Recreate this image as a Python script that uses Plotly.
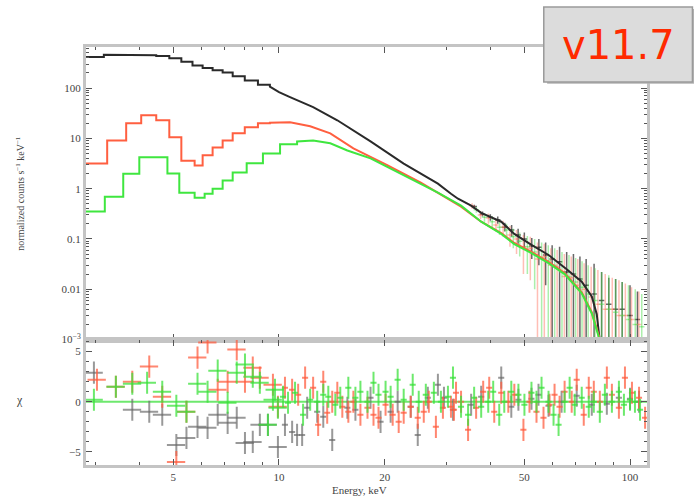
import plotly.graph_objects as go

# ---------------- upper panel: folded model curves ----------------
# low-energy part is a step histogram (bin edges in keV, value per bin)
blk_edges = [2.80, 3.17, 3.62, 4.05, 4.47, 4.87, 5.27, 5.67, 6.06, 6.47, 6.91, 7.38, 7.99, 8.71, 9.42]
blk_vals = [417, 460, 462, 452, 435, 392, 335, 280, 250, 226, 203, 172, 142, 116]
blk_fine_e = [9.42, 10.0, 10.75, 12.51, 14.66, 18.23, 22.66, 28.36, 30.90, 32.36, 35.27, 37.67,
              42.97, 46.82, 52.39, 58.60, 66.0, 72.86, 77.82, 80.4, 82.04]
blk_fine_v = [107, 83, 66, 41.7, 22.9, 8.7, 3.16, 1.26, 0.79, 0.63, 0.46, 0.33,
              0.22, 0.126, 0.076, 0.048, 0.025, 0.0141, 0.0072, 0.0032, 0.00091]

red_edges = [2.80, 3.24, 3.67, 4.05, 4.47, 4.87, 5.27, 5.75, 6.06, 6.47, 6.91, 7.38, 7.99, 8.71, 9.42]
red_vals = [3.16, 9.1, 20, 28.8, 22.9, 10.5, 3.6, 2.9, 4.6, 6.6, 9.1, 12.6, 16.6, 20]
red_fine_e = [9.42, 10.75, 12.27, 14.0, 16.29, 20.4, 25.35, 28.93, 33.01, 37.67, 42.97, 46.82,
              52.39, 58.60, 65.12, 72.86, 77.82, 81.51, 83.1]
red_fine_v = [20.4, 21, 17.4, 12.6, 6.3, 2.9, 1.32, 0.76, 0.44, 0.22, 0.13, 0.083,
              0.055, 0.035, 0.021, 0.0087, 0.0035, 0.0012, 0.0007]

grn_edges = [2.80, 3.19, 3.60, 4.00, 4.81, 5.20, 5.75, 6.14, 6.47, 6.91, 7.38, 8.09, 9.00, 10.07, 11.26]
grn_vals = [0.35, 0.69, 1.98, 4.2, 2.0, 0.83, 0.66, 0.79, 1.0, 1.45, 2.1, 3.2, 5.0, 7.6]
grn_fine_e = [11.26, 12.51, 14.0, 15.66, 18.23, 22.66, 28.36, 33.01, 37.67, 42.97, 46.82,
              52.39, 58.60, 65.12, 72.86, 77.82, 81.51, 83.1]
grn_fine_v = [8.7, 9.1, 8.0, 5.75, 4.0, 1.82, 0.83, 0.46, 0.22, 0.126, 0.079,
              0.052, 0.033, 0.020, 0.0083, 0.0033, 0.00115, 0.0007]

# ---------------- upper panel: high-energy data points ----------------
blk_dat_e = [36, 38, 40, 42, 44, 46, 48, 50, 52.5, 55, 57.5, 60, 63, 66, 69, 72, 75, 79, 83, 87, 91, 95, 100, 105]
blk_dat_v = [0.44, 0.31, 0.27, 0.24, 0.17, 0.15, 0.12, 0.10, 0.072, 0.068, 0.048, 0.04, 0.035, 0.022,
             0.02, 0.016, 0.012, 0.008, 0.006, 0.005, 0.004, 0.004, 0.003, 0.0025]
blk_dat_lo = [0.40, 0.28, 0.23, 0.20, 0.14, 0.11, 0.08, 0.065, 0.04, 0.03, 0.012, 0, 0, 0,
              0, 0, 0, 0, 0, 0, 0, 0, 0, 0]
blk_dat_hi = [0.48, 0.35, 0.31, 0.28, 0.21, 0.19, 0.16, 0.135, 0.105, 0.10, 0.085, 0.075, 0.07, 0.055,
              0.05, 0.045, 0.04, 0.032, 0.022, 0.017, 0.016, 0.014, 0.012, 0.009]

red_dat_e = [35.5, 37.5, 39.5, 41.5, 43.5, 45.5, 47.5, 49.7, 52, 54.5, 57, 59.5, 62, 65, 68, 71, 74,
             77.5, 81, 85, 89, 93, 97, 101, 106]
red_dat_v = [0.45, 0.30, 0.26, 0.19, 0.17, 0.12, 0.10, 0.07, 0.065, 0.04, 0.045, 0.03, 0.028, 0.018,
             0.017, 0.012, 0.01, 0.007, 0.005, 0.004, 0.004, 0.003, 0.003, 0.0025, 0.002]
red_dat_lo = [0.40, 0.25, 0.20, 0.14, 0.11, 0.07, 0.05, 0.02, 0.015, 0, 0, 0, 0, 0,
              0, 0, 0, 0, 0, 0, 0, 0, 0, 0, 0]
red_dat_hi = [0.51, 0.36, 0.32, 0.25, 0.23, 0.18, 0.15, 0.12, 0.11, 0.085, 0.08, 0.065, 0.06, 0.05,
              0.045, 0.04, 0.033, 0.028, 0.024, 0.02, 0.017, 0.015, 0.013, 0.011, 0.009]

grn_dat_e = [36.5, 38.5, 40.5, 42.5, 44.5, 46.5, 48.5, 51, 53.5, 56, 58.5, 61, 64, 67, 70, 73, 76,
             79.5, 83, 87, 91, 95, 99, 103.5, 108]
grn_dat_v = [0.38, 0.27, 0.22, 0.17, 0.15, 0.11, 0.09, 0.07, 0.055, 0.042, 0.037, 0.03, 0.022, 0.018,
             0.014, 0.011, 0.008, 0.006, 0.005, 0.004, 0.0035, 0.003, 0.0025, 0.002, 0.0018]
grn_dat_lo = [0.33, 0.22, 0.17, 0.12, 0.10, 0.065, 0.045, 0.02, 0.01, 0, 0, 0, 0, 0,
              0, 0, 0, 0, 0, 0, 0, 0, 0, 0, 0]
grn_dat_hi = [0.43, 0.32, 0.28, 0.22, 0.20, 0.16, 0.135, 0.115, 0.10, 0.085, 0.075, 0.065, 0.055, 0.048,
              0.042, 0.036, 0.03, 0.026, 0.022, 0.019, 0.016, 0.014, 0.012, 0.01, 0.008]

# ---------------- lower panel: residuals (chi) ----------------
blk_res_e = [2.97, 3.82, 4.27, 4.65, 5.10, 5.45, 5.86, 6.26, 6.69, 7.14, 7.58, 8.00, 8.42, 8.82, 9.30,
             9.93, 10.40, 10.90, 11.26, 11.64, 12.03, 12.85, 13.37, 14.18, 15.66, 16.51, 18.23, 19.47,
             20.80, 21.78, 23.73, 24.85, 26.55, 28.36, 29.51, 31.3, 35.27, 37.67, 42.97, 45.9, 48.09,
             52.4, 54.87, 58.6, 63.84, 70.5, 77.82, 85.9, 92.98, 100, 106.1]
blk_res_v = [2.9, -0.8, -1.0, -1.3, -4.3, -3.6, -2.5, -2.6, -1.3, -2.1, -1.6, -4.1, -4.0, -2.3, -2.3,
             -4.5, -2.3, -3.0, -3.3, -3.3, -0.6, -1.0, -1.5, -3.8, -0.6, -0.8, 0.4, -2.0,
             -1.0, 0.0, -0.5, -3.3, 0.4, 1.7, 0.4, -0.8, -0.3, 0.5, 2.4, -0.5, 0.2,
             0.3, 0.7, -0.4, 0.0, 0.6, -0.3, -0.2, 0.4, 0.3, 0.0]

red_res_e = [3.03, 3.43, 3.82, 4.27, 4.65, 5.10, 5.45, 5.86, 6.26, 6.69, 7.14, 7.58, 8.00, 8.42, 8.82,
             9.61, 9.93, 10.40, 10.90, 11.34, 11.87, 12.51, 12.93, 13.37, 13.72, 14.18, 14.66, 15.15,
             15.76, 16.29, 17.06, 17.87, 18.59, 19.21, 20.12, 21.08, 21.93, 22.66, 23.73, 24.85, 25.85,
             26.72, 27.99, 29.31, 30.90, 31.52, 31.94, 33.01, 34.57, 36.44, 38.17, 39.71, 41.04, 42.97,
             45.01, 46.82, 49.70, 51.71, 54.15, 56.70, 58.99, 60.96, 63.01, 65.12, 68.21, 70.50, 73.83,
             76.30, 78.86, 82.04, 85.91, 88.80, 92.98, 96.74, 101.3, 106.1, 110.4]
red_res_v = [2.2, 1.5, 2.0, 3.5, 0.5, -6.0, -1.0, 4.4, 5.9, 1.2, 2.0, 5.2, 2.0, 3.4, 2.4,
             1.7, -0.5, 1.4, 1.2, 0.7, 2.4, 1.4, -2.3, 2.0, -1.1, 0.0, 0.9, -0.5,
             -1.0, 0.0, -1.3, -0.6, -1.3, -1.6, -0.3, -1.3, -2.0, -1.1, -0.5, -1.6, -1.0,
             0.0, -2.5, -0.6, -0.5, -0.8, 0.9, 0.0, -2.8, -0.6, 1.0, 1.4, -1.0, 0.9,
             0.0, 0.7, -2.8, 0.0, -1.0, -1.6, -0.3, 0.7, -0.5, 1.0, 0.0, 2.2, -1.3,
             1.4, 1.0, 0.0, 2.4, 0.7, -0.6, 2.4, 0.9, 0.4, -1.6]

grn_res_e = [2.97, 3.43, 3.82, 4.21, 4.65, 5.10, 5.45, 5.86, 6.26, 6.69, 7.14, 7.58, 8.00, 8.42, 8.82,
             9.30, 9.61, 9.74, 9.93, 10.27, 10.61, 11.11, 11.71, 12.27, 12.85, 13.37, 13.82, 14.47,
             14.95, 15.76, 16.51, 17.06, 17.87, 18.59, 19.21, 20.12, 20.80, 21.78, 22.66, 24.04, 25.01,
             26.20, 27.62, 28.93, 30.29, 31.31, 33.01, 34.57, 35.97, 37.67, 39.45, 40.76, 42.41, 43.83,
             45.90, 48.09, 50.03, 52.39, 54.15, 55.97, 58.60, 60.56, 62.59, 65.12, 67.30, 69.57, 72.86,
             76.30, 78.86, 82.04, 84.80, 88.80, 92.98, 96.09, 100.0, 103.3, 106.8]
grn_res_v = [0.2, 1.5, 1.8, 1.9, 1.0, -0.4, -1.0, 1.8, 1.0, 3.1, -0.1, 2.9, 3.7, 2.5, 1.9,
             -2.3, 0.2, 1.2, -0.6, 0.5, -0.1, 0.9, -1.3, 0.2, 0.0, 0.7, 0.5, -0.3,
             0.4, 1.4, 0.4, 1.0, 0.0, 1.9, 0.7, 1.0, 0.5, 2.2, 0.2, 1.7, 0.0,
             0.7, 0.9, 0.0, 0.5, 2.4, -0.5, -1.3, 0.4, -0.5, 0.0, 1.0, -1.3, 0.0,
             1.0, 0.7, -0.3, 0.9, 0.0, 1.4, 0.0, -1.3, -2.3, 0.0, 1.4, -0.3, 0.4,
             -0.5, 0.0, -1.0, 0.7, 0.0, 1.0, -0.3, 0.2, 0.0, -0.8]

x_tickvals = [5, 10, 20, 50, 100]
x_ticktext = ["5", "10", "20", "50", "100"]
y_tickvals = [1e-3, 1e-2, 0.1, 1, 10, 100]
y_ticktext = ["10<sup>−3</sup>", "0.01", "0.1", "1", "10", "100"]
r_tickvals = [-5, 0, 5]
r_ticktext = ["−5", "0", "5"]

C_BLK = "#2a2a2a"
C_RED = "#ff5f40"
C_GRN = "#3fe63f"


def steps_then_fine(edges, vals, fe, fv):
    xs, ys = [], []
    for i, v in enumerate(vals):
        xs += [edges[i], edges[i + 1]]
        ys += [v, v]
    return xs + fe, ys + fv


fig = go.Figure()

# upper-panel data points
for e, v, lo, hi, col in [
    (blk_dat_e, blk_dat_v, blk_dat_lo, blk_dat_hi, "rgba(40,40,40,0.7)"),
    (red_dat_e, red_dat_v, red_dat_lo, red_dat_hi, "rgba(255,110,90,0.45)"),
    (grn_dat_e, grn_dat_v, grn_dat_lo, grn_dat_hi, "rgba(70,220,70,0.45)"),
]:
    fig.add_trace(go.Scatter(
        x=e, y=v, mode="markers", marker=dict(size=1, color=col), showlegend=False,
        error_y=dict(type="data", symmetric=False,
                     array=[h - a for a, h in zip(v, hi)],
                     arrayminus=[a - max(l, 1e-5) for a, l in zip(v, lo)],
                     color=col, thickness=1.5, width=0),
        error_x=dict(type="percent", value=1.8, color=col, thickness=1.5, width=0),
        xaxis="x", yaxis="y"))

# models
for ed, va, fe, fv, col in [
    (blk_edges, blk_vals, blk_fine_e, blk_fine_v, C_BLK),
    (red_edges, red_vals, red_fine_e, red_fine_v, C_RED),
    (grn_edges, grn_vals, grn_fine_e, grn_fine_v, C_GRN),
]:
    xs, ys = steps_then_fine(ed, va, fe, fv)
    fig.add_trace(go.Scatter(x=xs, y=ys, mode="lines", line=dict(color=col, width=2),
                             showlegend=False, xaxis="x", yaxis="y"))

# residuals
for e, v, col in [
    (blk_res_e, blk_res_v, "rgba(110,110,110,0.7)"),
    (red_res_e, red_res_v, "rgba(255,95,65,0.75)"),
    (grn_res_e, grn_res_v, "rgba(60,225,60,0.75)"),
]:
    fig.add_trace(go.Scatter(
        x=e, y=v, mode="markers", marker=dict(size=1, color=col), showlegend=False,
        error_y=dict(type="constant", value=1.1, color=col, thickness=2, width=0),
        error_x=dict(type="data", array=[x * (0.06 if x < 10 else 0.02) for x in e],
                     color=col, thickness=2, width=0),
        xaxis="x2", yaxis="y2"))

FRAME = "#c4c4c4"
TICKC = "#555555"
tickfont = dict(family="Liberation Serif", size=11, color="#444444")
x_minor = [3, 4, 6, 7, 8, 9, 30, 40, 60, 70, 80, 90]
y_minor = [k * 10 ** d for d in range(-3, 3) for k in range(2, 10)]

common_x = dict(type="log", range=[0.4502, 2.0484], showgrid=False, zeroline=False,
                showline=True, linecolor=FRAME, linewidth=3, mirror="allticks",
                ticks="inside", ticklen=6, tickcolor=TICKC, tickwidth=1,
                tickmode="array", tickvals=x_tickvals, ticktext=x_ticktext,
                minor=dict(ticks="inside", ticklen=3, tickcolor=TICKC, tickvals=x_minor),
                tickfont=tickfont)

fig.update_layout(
    width=694, height=499,
    margin=dict(l=86, r=47, t=47, b=34),
    paper_bgcolor="white", plot_bgcolor="white",
    xaxis=dict(common_x, domain=[0, 1], anchor="y", showticklabels=False),
    xaxis2=dict(common_x, domain=[0, 1], anchor="y2", showticklabels=True),
    yaxis=dict(type="log", range=[-3, 2.817], domain=[0.3002, 1], anchor="x",
               showgrid=False, zeroline=False, showline=True, linecolor=FRAME, linewidth=3,
               mirror="allticks", ticks="inside", ticklen=6, tickcolor=TICKC,
               tickmode="array", tickvals=y_tickvals, ticktext=y_ticktext,
               minor=dict(ticks="inside", ticklen=3, tickcolor=TICKC, tickvals=y_minor),
               tickfont=tickfont),
    yaxis2=dict(range=[-6.3, 6.2], domain=[0, 0.3002], anchor="x2",
                showgrid=False, zeroline=False, showline=True, linecolor=FRAME, linewidth=3,
                mirror="allticks", ticks="inside", ticklen=6, tickcolor=TICKC,
                tickmode="array", tickvals=r_tickvals, ticktext=r_ticktext,
                minor=dict(ticks="inside", ticklen=3, tickcolor=TICKC, dtick=1),
                tickfont=tickfont),
)

# zero line in residual panel
fig.add_shape(type="line", xref="x2 domain", yref="y2", x0=0, x1=1, y0=0, y1=0,
              line=dict(color="#6ee86e", width=2), layer="below")

annot_font = dict(family="Liberation Serif", size=10, color="#444444")
fig.add_annotation(text="normalized counts s<sup>−1</sup> keV<sup>−1</sup>", xref="paper", yref="paper",
                   x=-0.118, y=0.651, textangle=-90, showarrow=False, font=annot_font,
                   xanchor="center", yanchor="middle")
fig.add_annotation(text="χ", xref="paper", yref="paper", x=-0.118, y=0.155, showarrow=False,
                   font=dict(family="Liberation Serif", size=12, color="#444444"),
                   xanchor="center", yanchor="middle")
fig.add_annotation(text="Energy, keV", xref="paper", yref="paper", x=0.488, y=-0.06, showarrow=False,
                   font=dict(family="Liberation Serif", size=11, color="#444444"),
                   xanchor="center", yanchor="middle")

# version badge
fig.add_shape(type="rect", xref="paper", yref="paper", x0=0.822, x1=1.086, y0=0.912, y1=1.091,
              fillcolor="#b4b4b4", line=dict(width=0), layer="above")
fig.add_shape(type="rect", xref="paper", yref="paper", x0=0.816, x1=1.081, y0=0.9163, y1=1.0957,
              fillcolor="#dcdcdc", line=dict(color="#9a9a9a", width=1.5), layer="above")
fig.add_annotation(text="v11.7", xref="paper", yref="paper", x=0.950, y=1.0048, showarrow=False,
                   font=dict(family="DejaVu Sans", size=40, color="#ff2a00"),
                   xanchor="center", yanchor="middle")

fig.write_html("out.html")
